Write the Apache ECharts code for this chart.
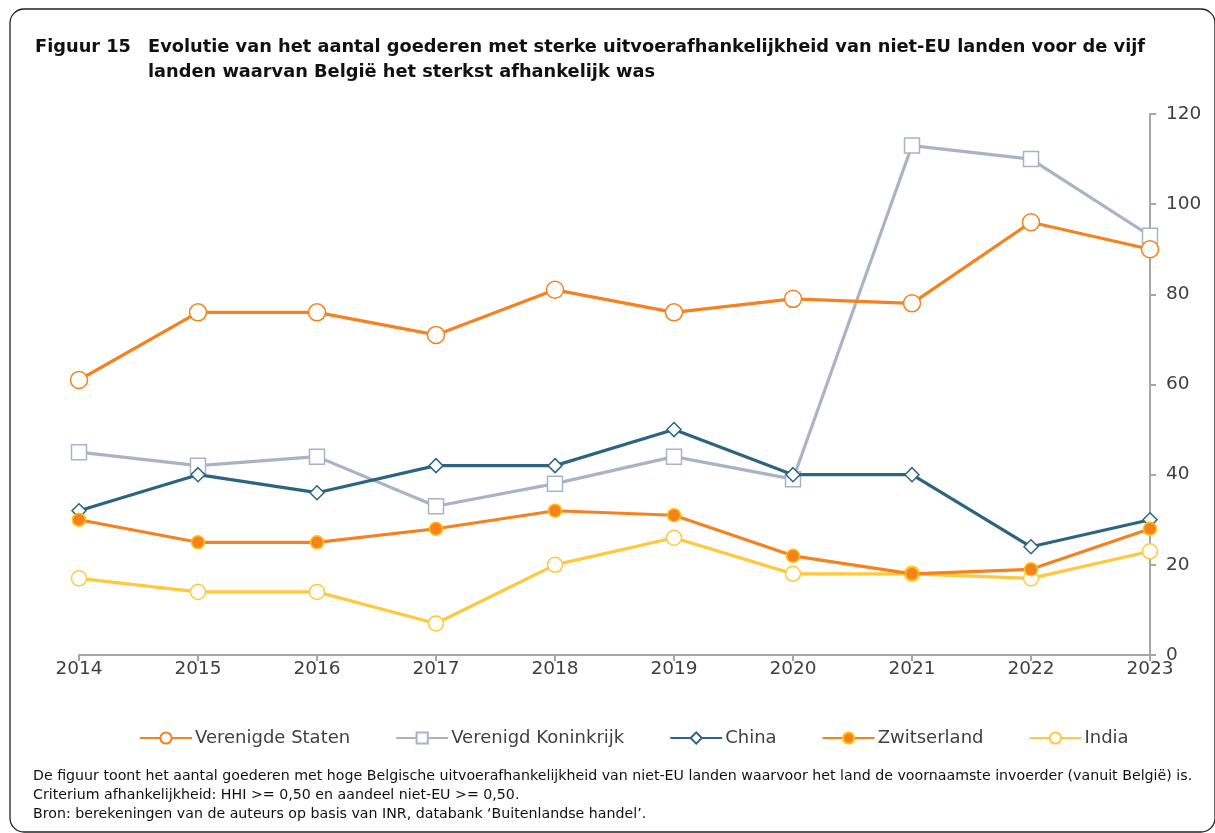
<!DOCTYPE html>
<html>
<head>
<meta charset="utf-8">
<style>
  html, body { margin: 0; padding: 0; background: #ffffff; }
  #chart { width: 1215px; height: 833px; }
</style>
<script src="https://cdn.jsdelivr.net/npm/echarts@6/dist/echarts.min.js"></script>
</head>
<body>
<div id="chart"></div>
<script>
// Years on the horizontal axis
const years = ['2014', '2015', '2016', '2017', '2018', '2019', '2020', '2021', '2022', '2023'];

// Number of goods with strong export dependence, per partner country
const verenigdeStaten = [61, 76, 76, 71, 81, 76, 79, 78, 96, 90];
const verenigdKoninkrijk = [45, 42, 44, 33, 38, 44, 39, 113, 110, 93];
const china = [32, 40, 36, 42, 42, 50, 40, 40, 24, 30];
const zwitserland = [30, 25, 25, 28, 32, 31, 22, 18, 19, 28];
const india = [17, 14, 14, 7, 20, 26, 18, 18, 17, 23];

// Value axis ticks
const yTicks = [0, 20, 40, 60, 80, 100, 120];

const legendNames = ['Verenigde Staten', 'Verenigd Koninkrijk', 'China', 'Zwitserland', 'India'];

const FONT = '"DejaVu Sans", sans-serif';
const TEXT = '#404040';
const AXIS = '#a6a6a6';

const chart = echarts.init(document.getElementById('chart'), null, { renderer: 'canvas' });

function lineSeries(name, data, color, symbol, size, fill, border, z) {
  return {
    name: name,
    type: 'line',
    data: data,
    z: z,
    symbol: symbol,
    symbolSize: size,
    showAllSymbol: true,
    lineStyle: { color: color, width: 3.2 },
    itemStyle: { color: fill, borderColor: border, borderWidth: 1.5 },
    emphasis: { disabled: true },
    animation: false
  };
}

chart.setOption({
  animation: false,
  textStyle: { fontFamily: FONT },
  grid: { left: 79, right: 65, top: 114, bottom: 178, containLabel: false },
  xAxis: {
    type: 'category',
    data: years,
    boundaryGap: false,
    axisLine: { lineStyle: { color: AXIS, width: 2 } },
    axisTick: { show: true, alignWithLabel: true, length: 6, lineStyle: { color: AXIS, width: 2 } },
    axisLabel: { color: TEXT, fontSize: 18.5, margin: 5, fontFamily: FONT },
    splitLine: { show: false }
  },
  yAxis: {
    type: 'value',
    position: 'right',
    min: yTicks[0],
    max: yTicks[yTicks.length - 1],
    interval: yTicks[1] - yTicks[0],
    axisLine: { show: true, lineStyle: { color: AXIS, width: 2 } },
    axisTick: { show: true, inside: false, length: 6, lineStyle: { color: AXIS, width: 2 } },
    axisLabel: { color: TEXT, fontSize: 18.5, margin: 16, fontFamily: FONT },
    splitLine: { show: false }
  },
  legend: {
    data: legendNames,
    bottom: 81,
    left: 134,
    itemWidth: 52,
    itemHeight: 14,
    itemGap: 45,
    textStyle: { color: TEXT, fontSize: 18, fontFamily: FONT, padding: [0, 0, 0, -2] },
    selectedMode: false
  },
  series: [
    lineSeries('Verenigd Koninkrijk', verenigdKoninkrijk, '#a8b3c3', 'rect', 15, '#ffffff', '#a8b3c3', 2),
    lineSeries('India', india, '#ffc83d', 'circle', 15, '#ffffff', '#ffc83d', 3),
    lineSeries('Verenigde Staten', verenigdeStaten, '#f5821f', 'circle', 17, '#ffffff', '#f5821f', 4),
    lineSeries('China', china, '#2d6580', 'diamond', 14, '#ffffff', '#2d6580', 5),
    lineSeries('Zwitserland', zwitserland, '#f5821f', 'circle', 13, '#f5821f', '#ffc20e', 6)
  ],
  graphic: [
    {
      type: 'rect',
      silent: true,
      shape: { x: 10, y: 9, width: 1205, height: 823, r: 14 },
      style: { fill: null, stroke: '#222222', lineWidth: 1.3 },
      z: -1
    },
    {
      type: 'text', left: 35, top: 35, silent: true,
      style: { text: 'Figuur 15', font: 'bold 17.8px ' + FONT, fill: '#111111', lineHeight: 25 }
    },
    {
      type: 'text', left: 148, top: 35, silent: true,
      style: {
        text: 'Evolutie van het aantal goederen met sterke uitvoerafhankelijkheid van niet-EU landen voor de vijf\nlanden waarvan België het sterkst afhankelijk was',
        font: 'bold 17.8px ' + FONT, fill: '#111111', lineHeight: 25
      }
    },
    {
      type: 'text', left: 33, top: 767, silent: true,
      style: {
        text: 'De figuur toont het aantal goederen met hoge Belgische uitvoerafhankelijkheid van niet-EU landen waarvoor het land de voornaamste invoerder (vanuit België) is.\nCriterium afhankelijkheid: HHI >= 0,50 en aandeel niet-EU >= 0,50.\nBron: berekeningen van de auteurs op basis van INR, databank ‘Buitenlandse handel’.',
        font: '14.2px ' + FONT, fill: '#111111', lineHeight: 19
      }
    }
  ]
});
</script>
</body>
</html>
